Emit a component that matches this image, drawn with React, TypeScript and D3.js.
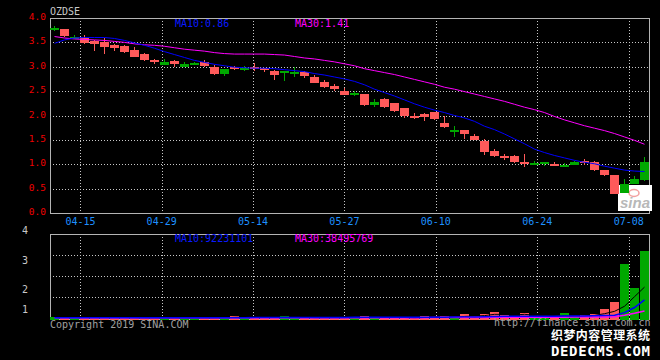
import React, { useEffect, useRef } from "react";
import * as d3 from "d3";

const W = 660;
const H = 360;

// daily candles, 60 sessions
const openP = [3.79,3.63,3.62,3.48,3.46,3.39,3.38,3.31,3.20,3.13, 3.10,3.10,3.05,3.06,3.08,3.01,2.85,2.95,2.95,2.98,
  2.99,2.95,2.83,2.91,2.89,2.80,2.68,2.57,2.53,2.42, 2.46,2.22,2.28,2.16,2.08,1.98,1.99,1.98,1.93,1.75,
  1.70,1.62,1.50,1.26,1.16,1.12,1.03,1.02,1.03,1.04, 0.95,0.99,1.05,1.02,0.88,0.78,0.39,0.59,0.70,1.05];
const highP = [3.83,3.78,3.66,3.65,3.54,3.58,3.46,3.44,3.40,3.28, 3.15,3.16,3.13,3.10,3.10,3.13,3.04,2.96,3.01,3.02,
  3.07,2.98,2.93,2.92,2.99,2.92,2.83,2.73,2.65,2.56, 2.51,2.45,2.33,2.35,2.26,2.16,2.05,2.06,2.08,1.99,
  1.79,1.71,1.62,1.52,1.31,1.21,1.18,1.22,1.07,1.04, 1.04,1.03,1.06,1.11,1.06,0.89,0.77,0.69,0.76,1.15];
const lowP = [3.72,3.61,3.57,3.47,3.31,3.26,3.32,3.28,3.19,3.12, 3.04,3.03,2.98,2.99,3.04,2.98,2.83,2.81,2.92,2.91,
  2.90,2.89,2.73,2.71,2.79,2.78,2.67,2.57,2.50,2.42, 2.40,2.20,2.17,2.15,2.07,1.95,1.93,1.89,1.92,1.75,
  1.57,1.53,1.49,1.20,1.14,1.09,1.01,0.95,0.99,0.95, 0.95,0.95,0.98,0.99,0.85,0.76,0.39,0.40,0.59,0.66];
const closeP = [3.78,3.77,3.61,3.60,3.53,3.50,3.45,3.43,3.34,3.26, 3.13,3.04,3.12,2.99,3.07,3.09,2.99,2.85,3.00,2.97,
  3.00,2.97,2.91,2.87,2.84,2.89,2.80,2.68,2.60,2.51, 2.45,2.44,2.22,2.33,2.25,2.15,2.00,2.04,2.07,1.84,
  1.69,1.70,1.58,1.48,1.27,1.17,1.16,1.05,1.02,1.03, 1.00,0.96,0.98,1.07,1.05,0.88,0.77,0.41,0.60,0.69];

const ma10 = [3.48,3.55,3.59,3.60,3.60,3.60,3.58,3.54,3.49,3.44, 3.38,3.31,3.25,3.19,3.13,3.09,3.05,3.02,2.99,2.98,
  2.97,2.97,2.96,2.94,2.92,2.90,2.86,2.83,2.79,2.75, 2.70,2.63,2.54,2.47,2.40,2.32,2.24,2.17,2.11,2.06,
  2.00,1.95,1.88,1.78,1.71,1.62,1.52,1.42,1.31,1.24, 1.18,1.13,1.08,1.04,1.01,0.96,0.92,0.88,0.86,0.85];
const ma30 = [3.62,3.59,3.57,3.56,3.55,3.54,3.52,3.50,3.47,3.45, 3.44,3.42,3.39,3.36,3.34,3.32,3.29,3.27,3.26,3.26,
  3.26,3.26,3.25,3.24,3.21,3.18,3.16,3.13,3.10,3.06, 3.02,2.96,2.92,2.88,2.84,2.79,2.74,2.69,2.64,2.58,
  2.54,2.49,2.44,2.39,2.34,2.29,2.23,2.17,2.12,2.06, 1.98,1.91,1.85,1.79,1.74,1.69,1.63,1.56,1.49,1.41];

// volume, millions of shares
const volume = [11,5,5,5,11,11,5,5,5,5, 5,5,5,5,5,5,5,11,15,8,
  5,5,5,15,8,5,5,5,8,5, 8,14,8,5,5,5,5,14,5,14,
  5,23,14,23,33,17,8,28,5,5, 9,28,9,17,23,46,80,260,144,318];
const volMa5 = [7,7,7,7,7,8,8,7,6,5, 5,5,5,5,5,5,5,6,8,9,
  9,9,8,8,8,8,6,6,6,6, 6,7,8,8,8,7,5,7,7,8,
  9,12,14,16,22,22,19,22,18,12, 11,15,11,14,17,25,36,60,105,150];
const volMa10 = [6,6,6,6,6,6,6,6,6,6, 6,6,6,6,6,6,6,6,6,6,
  7,7,7,7,7,7,7,7,7,7, 8,8,8,8,8,8,8,8,8,8,
  9,10,10,11,12,13,13,13,13,13, 13,14,14,14,15,16,18,30,54,90];
const volMa30 = [6,6,6,6,6,6,6,6,6,6, 6,6,6,6,6,6,6,6,6,6,
  6,6,6,6,6,6,6,6,6,6, 6,6,6,6,6,6,6,6,7,7,
  7,7,7,7,8,8,8,8,8,8, 8,8,9,9,9,9,11,18,27,38];

const priceTicks = [0, 0.5, 1.0, 1.5, 2.0, 2.5, 3.0, 3.5, 4.0];
const dateLabels = ["04-15", "04-29", "05-14", "05-27", "06-10", "06-24", "07-08"];
const dateIdx = [3, 11, 20, 29, 38, 48, 57];
const volLabels = [4, 3, 2, 1];

const RED = "#ff5a5a";
const GREEN = "#00a800";
const GRID = "#c8c8c8";
const MONO = "'DejaVu Sans Mono', monospace";

export default function App() {
  const ref = useRef<SVGSVGElement>(null);

  useEffect(() => {
    const svg = d3.select(ref.current);
    svg.selectAll("*").remove();
    const idx = d3.range(closeP.length);

    const x = d3.scaleBand<number>().domain(idx).range([50, 649]).paddingInner(0.1).paddingOuter(0);
    const gx = d3.scaleLinear().domain([0, 59.1]).range([50, 650]);
    const y = d3.scaleLinear().domain([0, 4]).range([213, 18]);
    const yv = d3.scaleLinear().domain([0, 400]).range([319, 234]);
    const yLab = d3.scaleLinear().domain([1, 2, 3, 4]).range([310, 290, 261, 231]);
    const cx = (i: number) => (x(i) as number) + 4.5;
    const col = (i: number) => (closeP[i] >= openP[i] ? RED : GREEN);
    const px = (v: number) => Math.round(v) + 0.5;

    svg.append("rect").attr("width", W).attr("height", H).attr("fill", "#000");

    const grid = svg.append("g").attr("stroke", GRID).attr("stroke-dasharray", "1,2").attr("shape-rendering", "crispEdges");
    // horizontal price grid
    grid.selectAll(".hp").data(priceTicks.filter((t) => t > 0 && t < 4)).join("line")
      .attr("x1", 50).attr("x2", 650).attr("y1", (d) => px(y(d))).attr("y2", (d) => px(y(d)));
    // vertical grid in both panels
    grid.selectAll(".vp").data(dateIdx).join("line").attr("class", "vp")
      .attr("x1", (d) => px(gx(d))).attr("x2", (d) => px(gx(d))).attr("y1", 18).attr("y2", 213);
    grid.selectAll(".vv").data(dateIdx).join("line").attr("class", "vv")
      .attr("x1", (d) => px(gx(d))).attr("x2", (d) => px(gx(d))).attr("y1", 234).attr("y2", 319);
    grid.selectAll(".hv").data([1, 2, 3]).join("line").attr("class", "hv")
      .attr("x1", 50).attr("x2", 650)
      .attr("y1", (d) => px(234 + d * 21)).attr("y2", (d) => px(234 + d * 21));

    // borders
    const border = svg.append("g").attr("stroke", "#b4b4b4").attr("fill", "none").attr("shape-rendering", "crispEdges");
    border.append("rect").attr("x", 50.5).attr("y", px(y(4))).attr("width", 599).attr("height", y(0) - y(4));
    border.append("rect").attr("x", 50.5).attr("y", 234.5).attr("width", 599).attr("height", 85);

    // sina logo
    const logo = svg.append("g");
    logo.append("rect").attr("x", 618).attr("y", 185).attr("width", 34).attr("height", 26).attr("fill", "#fff");
    logo.append("ellipse").attr("cx", 634).attr("cy", 193).attr("rx", 5).attr("ry", 3.5)
      .attr("fill", "none").attr("stroke", "#f3a0a0").attr("stroke-width", 1.5);
    logo.append("text").attr("x", 635).attr("y", 208).attr("text-anchor", "middle")
      .attr("font-family", "'Liberation Sans', sans-serif").attr("font-style", "italic").attr("font-weight", "bold")
      .attr("font-size", 15).attr("fill", "#b8b8b8").text("sina");

    // candles
    const cg = svg.append("g").attr("shape-rendering", "crispEdges");
    cg.selectAll(".wick").data(idx).join("rect").attr("class", "wick")
      .attr("x", (i) => (x(i) as number) + 4).attr("width", 1)
      .attr("y", (i) => Math.round(y(highP[i])))
      .attr("height", (i) => Math.max(1, Math.round(y(lowP[i]) - y(highP[i]))))
      .attr("fill", col);
    cg.selectAll(".body").data(idx).join("rect").attr("class", "body")
      .attr("x", (i) => x(i) as number).attr("width", x.bandwidth())
      .attr("y", (i) => Math.round(y(Math.max(openP[i], closeP[i]))))
      .attr("height", (i) => Math.max(2, Math.round(Math.abs(y(openP[i]) - y(closeP[i])))))
      .attr("fill", col);

    const line = (arr: number[], sy: d3.ScaleLinear<number, number>) =>
      d3.line<number>().x((_, i) => cx(i)).y((d) => sy(d))(arr);

    svg.append("path").attr("d", line(ma30, y)).attr("fill", "none").attr("stroke", "#ff00ff").attr("stroke-width", 1);
    svg.append("path").attr("d", line(ma10, y)).attr("fill", "none").attr("stroke", "#0000ff").attr("stroke-width", 1);

    // price labels
    svg.append("g").selectAll("text").data(priceTicks).join("text")
      .attr("x", 46).attr("y", (d) => y(d) - 0.5).attr("text-anchor", "end").attr("dominant-baseline", "middle")
      .attr("font-family", MONO).attr("font-size", 9.5).attr("fill", "#f00000")
      .text((d) => d.toFixed(1));

    // date labels
    svg.append("g").selectAll("text").data(dateIdx).join("text")
      .attr("x", (d) => gx(d)).attr("y", 225).attr("text-anchor", "middle")
      .attr("font-family", MONO).attr("font-size", 10).attr("fill", "#1e90ff")
      .text((_, k) => dateLabels[k]);

    const txt = (s: string, tx: number, ty: number, fill: string, size = 10) =>
      svg.append("text").attr("x", tx).attr("y", ty).attr("font-family", MONO)
        .attr("font-size", size).attr("fill", fill).text(s);

    txt("OZDSE", 50, 15, "#c8c8c8");
    txt("MA10:0.86", 175, 27, "#0a1aff");
    txt(`MA30:${ma30[ma30.length - 1].toFixed(2)}`, 295, 27, "#ff00ff");

    // volume bars
    const vg = svg.append("g").attr("shape-rendering", "crispEdges");
    vg.selectAll("rect").data(idx).join("rect")
      .attr("x", (i) => x(i) as number).attr("width", x.bandwidth())
      .attr("y", (i) => Math.round(yv(volume[i])))
      .attr("height", (i) => Math.max(1, 320 - Math.round(yv(volume[i]))))
      .attr("fill", col);

    svg.append("path").attr("d", line(volMa5, yv)).attr("fill", "none").attr("stroke", "#000").attr("stroke-width", 1);
    svg.append("path").attr("d", line(volMa30, yv)).attr("fill", "none").attr("stroke", "#ff00ff").attr("stroke-width", 1.5);
    svg.append("path").attr("d", line(volMa10, yv)).attr("fill", "none").attr("stroke", "#0000ff").attr("stroke-width", 1.5);

    svg.append("g").selectAll("text").data(volLabels).join("text")
      .attr("x", 28).attr("y", (d) => yLab(d)).attr("text-anchor", "end").attr("dominant-baseline", "middle")
      .attr("font-family", MONO).attr("font-size", 10).attr("fill", "#c8c8c8")
      .text((d) => String(d));

    txt("MA10:92231101", 175, 242, "#0a1aff");
    txt("MA30:38495769", 295, 242, "#ff00ff");
    txt("Copyright 2019 SINA.COM", 50, 328, "#a0a0a0");
    txt("http://finance.sina.com.cn", 494, 326, "#a0a0a0");

    // watermark
    svg.append("text").attr("x", 551).attr("y", 340).attr("font-family", "'Noto Sans CJK SC', sans-serif")
      .attr("font-weight", "bold").attr("font-size", 12).attr("fill", "#fff").attr("stroke", "#000")
      .attr("stroke-width", 2).attr("paint-order", "stroke").attr("textLength", 99).text("织梦内容管理系统");
    svg.append("text").attr("x", 551).attr("y", 356).attr("font-family", MONO)
      .attr("font-weight", "bold").attr("font-size", 14).attr("fill", "#fff").attr("stroke", "#000")
      .attr("stroke-width", 2).attr("paint-order", "stroke").attr("textLength", 99).text("DEDECMS.COM");
  }, []);

  return (
    <div style={{ position: "fixed", left: 0, top: 0, width: W, height: H, background: "#000" }}>
      <svg ref={ref} width={W} height={H}></svg>
    </div>
  );
}
